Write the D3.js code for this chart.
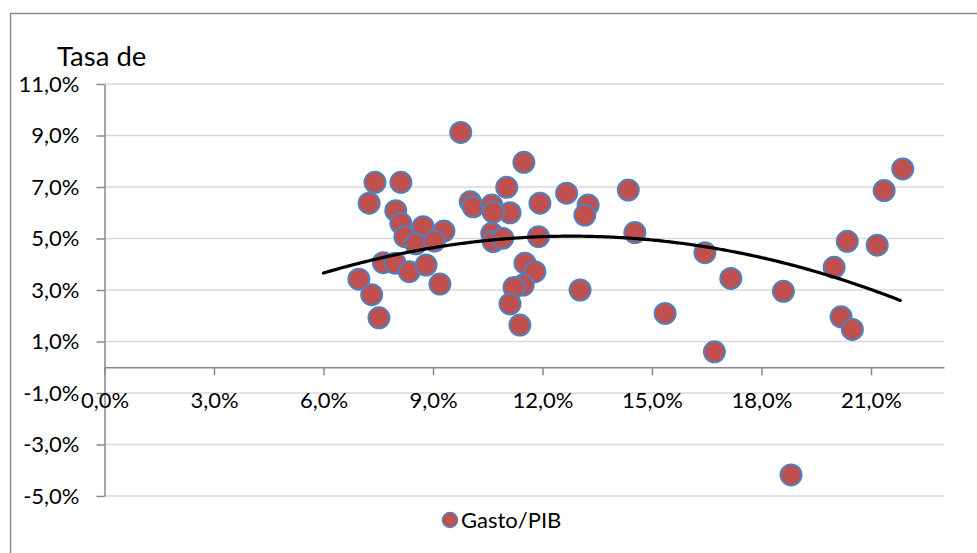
<!DOCTYPE html>
<html>
<head>
<meta charset="utf-8">
<script src="https://cdn.jsdelivr.net/npm/d3@7/dist/d3.min.js"></script>
<style>
  html, body { margin: 0; padding: 0; background: #ffffff; }
  svg { display: block; font-family: Lato, "Noto Sans", sans-serif; }
</style>
</head>
<body>
<svg id="chart" width="977" height="553"></svg>
<script>
// ---- data ----
const gastoPIB = [7.41, 8.12, 7.25, 7.98, 8.12, 8.23, 8.73, 9.30, 8.53, 9.04, 7.64, 7.96, 8.35, 8.81, 9.19, 6.97, 7.32, 7.52,
  10.02, 10.10, 9.76, 11.49, 11.02, 10.61, 11.11, 10.65, 11.93, 12.66, 10.61, 10.65, 10.91, 11.89, 11.52, 11.79, 11.47, 11.22,
  11.11, 11.38, 13.25, 13.16, 14.35, 14.53, 13.03, 15.36, 16.45, 17.16, 16.71, 18.60, 19.99, 20.35, 20.18, 20.49, 21.17, 21.36,
  21.87, 18.81];
const tasa = [7.18, 7.18, 6.37, 6.08, 5.59, 5.07, 5.46, 5.29, 4.79, 4.90, 4.06, 4.04, 3.71, 3.97, 3.23, 3.42, 2.82, 1.92,
  6.43, 6.23, 9.12, 7.96, 6.99, 6.30, 6.00, 6.02, 6.37, 6.76, 5.20, 4.88, 5.01, 5.07, 4.04, 3.71, 3.19, 3.10,
  2.46, 1.64, 6.30, 5.91, 6.88, 5.23, 3.00, 2.09, 4.45, 3.45, 0.60, 2.95, 3.88, 4.89, 1.96, 1.47, 4.74, 6.86,
  7.70, -4.18];
const xTicks = [0, 3, 6, 9, 12, 15, 18, 21];
const yTicks = [11, 9, 7, 5, 3, 1, -1, -3, -5];
const seriesName = "Gasto/PIB";
const yTitle = "Tasa de";
// polynomial (order 2) trendline as shown in the picture: y = c0 + c1*x + c2*x^2
const trendCoef = [0.022, 0.7914, -0.03089];
const trendRange = [6.0, 21.87];

// ---- layout ----
const svg = d3.select("#chart");
const x = d3.scaleLinear().domain([0, 23]).range([104.5, 944]);
const y = d3.scaleLinear().domain([-5, 11]).range([496, 84]);
const fmt = v => d3.format(".1f")(v).replace(".", ",").replace("\u2212", "-") + "%";

// chart border
svg.append("rect").attr("x", 10.5).attr("y", 13.5).attr("width", 1200).attr("height", 800)
  .attr("fill", "none").attr("stroke", "#898989").attr("stroke-width", 1.5);

// gridlines
svg.append("g").selectAll("line").data(yTicks).join("line")
  .attr("x1", x(0)).attr("x2", x(23)).attr("y1", d => y(d)).attr("y2", d => y(d))
  .attr("stroke", "#d9d9d9").attr("stroke-width", 1.5);

// y axis
const yAxis = d3.axisLeft(y).tickValues(yTicks).tickFormat(fmt).tickSizeInner(8).tickSizeOuter(0).tickPadding(17);
const gy = svg.append("g").attr("transform", `translate(${x(0)},0)`).call(yAxis);
gy.select(".domain").attr("stroke", "#898989").attr("stroke-width", 1.5);
gy.selectAll(".tick line").attr("stroke", "#898989").attr("stroke-width", 1.5);
gy.selectAll("text").attr("font-size", 22).attr("fill", "#000").attr("font-family", "Lato");

// x axis (crosses at 0)
const xAxis = d3.axisBottom(x).tickValues(xTicks).tickFormat(fmt).tickSizeInner(8).tickSizeOuter(0).tickPadding(17);
const gx = svg.append("g").attr("transform", `translate(0,${y(0)})`).call(xAxis);
gx.select(".domain").attr("stroke", "#898989").attr("stroke-width", 1.5);
gx.selectAll(".tick line").attr("stroke", "#898989").attr("stroke-width", 1.5);
gx.selectAll("text").attr("font-size", 22).attr("fill", "#000").attr("font-family", "Lato");

// axis title
svg.append("text").attr("x", 57).attr("y", 66).attr("font-size", 27.5).attr("fill", "#000").text(yTitle);

// points
const pts = gastoPIB.map((g, i) => ({ gx: g, ty: tasa[i] }));
svg.append("g").selectAll("circle").data(pts).join("circle")
  .attr("cx", d => x(d.gx)).attr("cy", d => y(d.ty)).attr("r", 10.5)
  .attr("fill", "#c0504d").attr("stroke", "#4f81bd").attr("stroke-width", 2);

// trendline
const trendPts = d3.range(trendRange[0], trendRange[1] + 0.001, 0.1)
  .map(v => [v, trendCoef[0] + trendCoef[1]*v + trendCoef[2]*v*v]);
svg.append("path").datum(trendPts)
  .attr("d", d3.line().curve(d3.curveMonotoneX).x(d => x(d[0])).y(d => y(d[1])))
  .attr("fill", "none").attr("stroke", "#000").attr("stroke-width", 3.2).attr("stroke-linecap", "round");

// legend
svg.append("circle").attr("cx", 450).attr("cy", 520).attr("r", 7.5)
  .attr("fill", "#c0504d").attr("stroke", "#4f81bd").attr("stroke-width", 1.5);
svg.append("text").attr("x", 461).attr("y", 520).attr("dy", "0.35em").attr("font-size", 22).attr("fill", "#000").text(seriesName);
</script>
</body>
</html>
